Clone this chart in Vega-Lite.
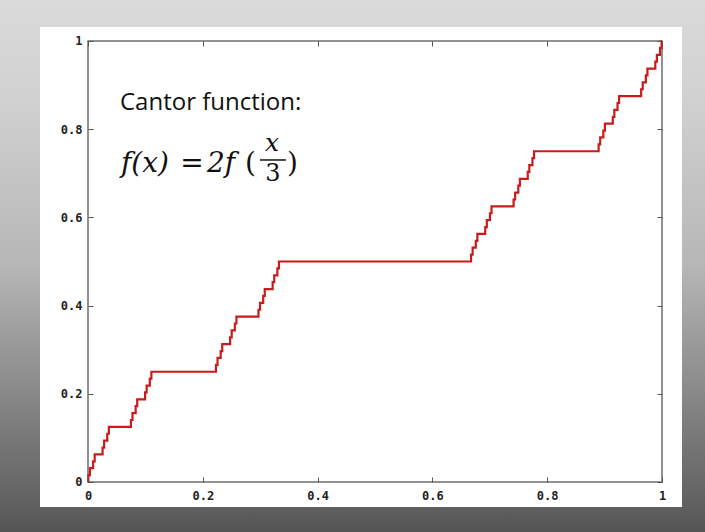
{
  "$schema": "https://vega.github.io/schema/vega-lite/v6.json",
  "width": 705,
  "height": 532,
  "autosize": {"type": "fit", "contains": "padding"},
  "padding": 0,
  "background": "#ffffff",
  "config": {
    "view": {
      "stroke": null,
      "fill": {
        "gradient": "linear", "x1": 0, "y1": 0, "x2": 0, "y2": 1,
        "stops": [
          {"offset": 0, "color": "#dadada"},
          {"offset": 0.2, "color": "#d0d0d0"},
          {"offset": 0.5, "color": "#b6b6b6"},
          {"offset": 0.72, "color": "#8c8c8c"},
          {"offset": 0.95, "color": "#606060"},
          {"offset": 1, "color": "#545454"}
        ]
      }
    }
  },
  "resolve": {"axis": {"x": "independent", "y": "independent"}},
  "layer": [
    {
      "data": {"values": [{}]},
      "mark": {"type": "rect", "fill": "#ffffff"},
      "encoding": {
        "x": {"datum": -0.08362, "type": "quantitative", "scale": {"domain": [-0.15331, 1.07491], "nice": false, "zero": false}, "axis": null},
        "x2": {"datum": 1.03484},
        "y": {"datum": -0.05669, "type": "quantitative", "scale": {"domain": [-0.11338, 1.09297], "nice": false, "zero": false}, "axis": null},
        "y2": {"datum": 1.03175}
      }
    },
    {
      "data": {"values": [{}]},
      "mark": {"type": "rect", "fill": null, "stroke": "#6e6e6e", "strokeWidth": 1.5},
      "encoding": {
        "x": {"datum": 0, "type": "quantitative", "axis": {"orient": "top", "offset": -41, "values": [0, 0.2, 0.4, 0.6, 0.8, 1], "labels": false, "domain": false, "grid": false, "tickSize": -5, "tickColor": "#555555", "tickWidth": 1, "title": null, "zindex": 2}},
        "x2": {"datum": 1},
        "y": {"datum": 0, "type": "quantitative", "axis": {"orient": "right", "offset": -43, "values": [0, 0.2, 0.4, 0.6, 0.8, 1], "labels": false, "domain": false, "grid": false, "tickSize": -5, "tickColor": "#555555", "tickWidth": 1, "title": null, "zindex": 2}},
        "y2": {"datum": 1}
      }
    },
    {
      "data": {"values": [
        {"x": 0, "y": 0},
        {"x": 0.000686, "y": 0.015625},
        {"x": 0.003429, "y": 0.03125},
        {"x": 0.008916, "y": 0.046875},
        {"x": 0.01166, "y": 0.0625},
        {"x": 0.025377, "y": 0.078125},
        {"x": 0.028121, "y": 0.09375},
        {"x": 0.033608, "y": 0.109375},
        {"x": 0.036351, "y": 0.125},
        {"x": 0.07476, "y": 0.140625},
        {"x": 0.077503, "y": 0.15625},
        {"x": 0.08299, "y": 0.171875},
        {"x": 0.085734, "y": 0.1875},
        {"x": 0.099451, "y": 0.203125},
        {"x": 0.102195, "y": 0.21875},
        {"x": 0.107682, "y": 0.234375},
        {"x": 0.110425, "y": 0.25},
        {"x": 0.222908, "y": 0.265625},
        {"x": 0.225652, "y": 0.28125},
        {"x": 0.231139, "y": 0.296875},
        {"x": 0.233882, "y": 0.3125},
        {"x": 0.247599, "y": 0.328125},
        {"x": 0.250343, "y": 0.34375},
        {"x": 0.25583, "y": 0.359375},
        {"x": 0.258573, "y": 0.375},
        {"x": 0.296982, "y": 0.390625},
        {"x": 0.299726, "y": 0.40625},
        {"x": 0.305213, "y": 0.421875},
        {"x": 0.307956, "y": 0.4375},
        {"x": 0.321674, "y": 0.453125},
        {"x": 0.324417, "y": 0.46875},
        {"x": 0.329904, "y": 0.484375},
        {"x": 0.332647, "y": 0.5},
        {"x": 0.667353, "y": 0.515625},
        {"x": 0.670096, "y": 0.53125},
        {"x": 0.675583, "y": 0.546875},
        {"x": 0.678326, "y": 0.5625},
        {"x": 0.692044, "y": 0.578125},
        {"x": 0.694787, "y": 0.59375},
        {"x": 0.700274, "y": 0.609375},
        {"x": 0.703018, "y": 0.625},
        {"x": 0.741427, "y": 0.640625},
        {"x": 0.74417, "y": 0.65625},
        {"x": 0.749657, "y": 0.671875},
        {"x": 0.752401, "y": 0.6875},
        {"x": 0.766118, "y": 0.703125},
        {"x": 0.768861, "y": 0.71875},
        {"x": 0.774348, "y": 0.734375},
        {"x": 0.777092, "y": 0.75},
        {"x": 0.889575, "y": 0.765625},
        {"x": 0.892318, "y": 0.78125},
        {"x": 0.897805, "y": 0.796875},
        {"x": 0.900549, "y": 0.8125},
        {"x": 0.914266, "y": 0.828125},
        {"x": 0.91701, "y": 0.84375},
        {"x": 0.922497, "y": 0.859375},
        {"x": 0.92524, "y": 0.875},
        {"x": 0.963649, "y": 0.890625},
        {"x": 0.966392, "y": 0.90625},
        {"x": 0.971879, "y": 0.921875},
        {"x": 0.974623, "y": 0.9375},
        {"x": 0.98834, "y": 0.953125},
        {"x": 0.991084, "y": 0.96875},
        {"x": 0.996571, "y": 0.984375},
        {"x": 0.999314, "y": 1},
        {"x": 1, "y": 1}
      ]},
      "mark": {"type": "line", "interpolate": "step-after", "color": "#c81c1c", "strokeWidth": 2.2},
      "encoding": {
        "x": {"field": "x", "type": "quantitative", "axis": {"orient": "bottom", "offset": -50, "values": [0, 0.2, 0.4, 0.6, 0.8, 1], "format": "~g", "domain": false, "grid": false, "tickSize": -5, "tickColor": "#555555", "tickWidth": 1, "labelFont": "DejaVu Sans Mono", "labelFontWeight": "bold", "labelFontSize": 12, "labelColor": "#222222", "labelPadding": 13, "title": null, "zindex": 2}},
        "y": {"field": "y", "type": "quantitative", "axis": {"orient": "left", "offset": -88, "values": [0, 0.2, 0.4, 0.6, 0.8, 1], "format": "~g", "domain": false, "grid": false, "tickSize": -5, "tickColor": "#555555", "tickWidth": 1, "labelFont": "DejaVu Sans Mono", "labelFontWeight": "bold", "labelFontSize": 12, "labelColor": "#222222", "labelPadding": 11, "title": null, "zindex": 2}}
      }
    },
    {
      "data": {"values": [{}]},
      "mark": {"type": "text", "text": "Cantor function:", "font": "Open Sans", "fontSize": 24, "align": "left", "baseline": "middle", "color": "#111111"},
      "encoding": {
        "x": {"datum": 0.0557, "type": "quantitative", "axis": null},
        "y": {"datum": 0.8594, "type": "quantitative", "axis": null}
      }
    },
    {
      "data": {"values": [{}]},
      "mark": {"type": "text", "text": "f(x)", "font": "DejaVu Serif", "fontStyle": "italic", "fontSize": 28, "align": "left", "baseline": "middle", "color": "#111111"},
      "encoding": {
        "x": {"datum": 0.0575, "type": "quantitative", "axis": null},
        "y": {"datum": 0.7211, "type": "quantitative", "axis": null}
      }
    },
    {
      "data": {"values": [{}]},
      "mark": {"type": "text", "text": "=", "font": "DejaVu Serif", "fontSize": 28, "align": "center", "baseline": "middle", "color": "#111111"},
      "encoding": {
        "x": {"datum": 0.1812, "type": "quantitative", "axis": null},
        "y": {"datum": 0.7211, "type": "quantitative", "axis": null}
      }
    },
    {
      "data": {"values": [{}]},
      "mark": {"type": "text", "text": "2f", "font": "DejaVu Serif", "fontStyle": "italic", "fontSize": 28, "align": "left", "baseline": "middle", "color": "#111111"},
      "encoding": {
        "x": {"datum": 0.2073, "type": "quantitative", "axis": null},
        "y": {"datum": 0.7211, "type": "quantitative", "axis": null}
      }
    },
    {
      "data": {"values": [{}]},
      "mark": {"type": "text", "text": "(", "font": "DejaVu Serif", "fontSize": 28, "align": "left", "baseline": "middle", "color": "#111111"},
      "encoding": {
        "x": {"datum": 0.2735, "type": "quantitative", "axis": null},
        "y": {"datum": 0.7211, "type": "quantitative", "axis": null}
      }
    },
    {
      "data": {"values": [{}]},
      "mark": {"type": "text", "text": "x", "font": "DejaVu Serif", "fontStyle": "italic", "fontSize": 25, "align": "center", "baseline": "middle", "color": "#111111"},
      "encoding": {
        "x": {"datum": 0.3206, "type": "quantitative", "axis": null},
        "y": {"datum": 0.7687, "type": "quantitative", "axis": null}
      }
    },
    {
      "data": {"values": [{}]},
      "mark": {"type": "rule", "color": "#111111", "strokeWidth": 1.5},
      "encoding": {
        "x": {"datum": 0.2997, "type": "quantitative", "axis": null},
        "x2": {"datum": 0.3449},
        "y": {"datum": 0.7302, "type": "quantitative", "axis": null}
      }
    },
    {
      "data": {"values": [{}]},
      "mark": {"type": "text", "text": "3", "font": "DejaVu Serif", "fontSize": 24, "align": "center", "baseline": "middle", "color": "#111111"},
      "encoding": {
        "x": {"datum": 0.3223, "type": "quantitative", "axis": null},
        "y": {"datum": 0.6984, "type": "quantitative", "axis": null}
      }
    },
    {
      "data": {"values": [{}]},
      "mark": {"type": "text", "text": ")", "font": "DejaVu Serif", "fontSize": 28, "align": "left", "baseline": "middle", "color": "#111111"},
      "encoding": {
        "x": {"datum": 0.3467, "type": "quantitative", "axis": null},
        "y": {"datum": 0.7211, "type": "quantitative", "axis": null}
      }
    }
  ]
}
